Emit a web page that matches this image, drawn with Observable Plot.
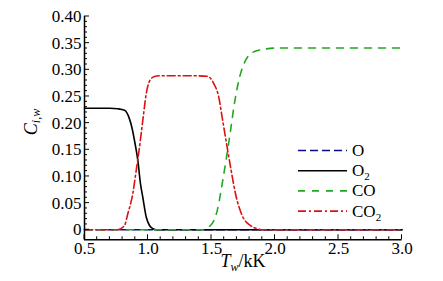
<!DOCTYPE html>
<html><head><meta charset="utf-8">
<script src="https://cdn.jsdelivr.net/npm/d3@7"></script>
<script src="https://cdn.jsdelivr.net/npm/@observablehq/plot@0.6"></script>
<style>body{margin:0;background:#fff} svg text, svg tspan {font-family: "Liberation Serif" !important;}</style>
</head><body><div id="chart"></div>
<script>
// Series data (T_w in kK, C_i,w)
const O_T   = [0.5, 1.0, 1.5, 2.0, 2.5, 3.0];
const O_C   = [0, 0, 0, 0, 0, 0];
const O2_T  = [0.5, 0.7, 0.76, 0.815, 0.854, 0.875, 0.894, 0.92, 0.941, 0.959, 0.986, 1.012, 1.04, 1.065, 1.5, 2.0, 2.5, 3.0];
const O2_C  = [0.228, 0.228, 0.227, 0.224, 0.208, 0.19, 0.167, 0.13, 0.086, 0.061, 0.024, 0.008, 0.002, 0, 0, 0, 0, 0];
const CO_T  = [0.5, 1.0, 1.417, 1.492, 1.545, 1.584, 1.61, 1.65, 1.676, 1.715, 1.755, 1.807, 1.886, 2.04, 2.5, 3.0];
const CO_C  = [0, 0, 0, 0.008, 0.036, 0.086, 0.124, 0.186, 0.23, 0.28, 0.311, 0.33, 0.3375, 0.341, 0.341, 0.341];
const CO2_T = [0.5, 0.76, 0.815, 0.841, 0.88, 0.907, 0.933, 0.959, 0.986, 1.012, 1.051, 1.1, 1.3, 1.466, 1.518, 1.557, 1.584, 1.623, 1.655, 1.689, 1.741, 1.807, 1.86, 1.912, 2.5, 3.0];
const CO2_C = [0, 0, 0.008, 0.03, 0.0675, 0.111, 0.155, 0.205, 0.255, 0.279, 0.2875, 0.289, 0.289, 0.288, 0.274, 0.249, 0.211, 0.155, 0.111, 0.0675, 0.027, 0.008, 0.002, 0, 0, 0];

const seriesNames = ["O", "O2", "CO", "CO2"];
const seriesSubs  = ["", "2", "", "2"];
const seriesBase  = ["O", "O", "CO", "CO"];
const seriesT = [O_T, O2_T, CO_T, CO2_T];
const seriesC = [O_C, O2_C, CO_C, CO2_C];
const colors = ["#0a0a8a", "#000000", "#21a821", "#dd1111"];
const dashes = ["8,4", "none", "7,7", "8,3,2,3"];

const xTicks = [0.5, 1.0, 1.5, 2.0, 2.5, 3.0];
const xTickLabels = ["0.5", "1.0", "1.5", "2.0", "2.5", "3.0"];
const yTicks = [0, 0.05, 0.10, 0.15, 0.20, 0.25, 0.30, 0.35, 0.40];
const yTickLabels = ["0", "0.05", "0.10", "0.15", "0.20", "0.25", "0.30", "0.35", "0.40"];

const yMin = -0.0188;
const font = "Liberation Serif";

const lineMarks = seriesNames.map((name, k) => {
  const data = seriesT[k].map((t, i) => ({T: t, C: seriesC[k][i]}));
  return Plot.line(data, {x: "T", y: "C", stroke: colors[k], strokeWidth: 1.6,
    strokeDasharray: dashes[k], curve: "monotone-x"});
});

const chart = Plot.plot({
  width: 443, height: 281,
  marginLeft: 84, marginRight: 41.5, marginTop: 16, marginBottom: 41.7,
  x: {domain: [0.5, 3.0]},
  y: {domain: [yMin, 0.40]},
  style: {fontFamily: font, fontSize: "17px", background: "#fff", color: "#000"},
  marks: [
    Plot.axisX({ticks: xTicks, tickFormat: d => xTickLabels[xTicks.indexOf(d)], tickSize: 0, tickPadding: 2, label: null, fontSize: 17, fontFamily: font}),
    Plot.axisY({ticks: yTicks, tickFormat: d => yTickLabels[yTicks.indexOf(d)], tickSize: 0, tickPadding: 3, label: null, fontSize: 17, fontFamily: font}),
    ...lineMarks,
    Plot.ruleX([0.5], {stroke: "#000", strokeWidth: 1.5}),
    Plot.ruleY([yMin], {stroke: "#000", strokeWidth: 1.5})
  ]
});

document.getElementById("chart").appendChild(chart);

const sx = chart.scale("x"), sy = chart.scale("y");
const svg = d3.select(chart);
const gT = svg.append("g").attr("stroke", "#000").attr("stroke-width", 1);
const x0 = sx.apply(0.5), y0 = sy.apply(yMin);
// inward ticks
d3.range(5, 31).map(v => v / 10).forEach(v => {
  const major = xTicks.some(t => Math.abs(t - v) < 1e-9);
  const px = sx.apply(v);
  gT.append("line").attr("x1", px).attr("x2", px).attr("y1", y0).attr("y2", y0 - (major ? 5 : 3));
});
d3.range(0, 41).map(v => v / 100).forEach(v => {
  const major = yTicks.some(t => Math.abs(t - v) < 1e-9);
  const py = sy.apply(v);
  gT.append("line").attr("x1", x0).attr("x2", x0 + (major ? 5 : 3)).attr("y1", py).attr("y2", py);
});

// axis titles
const xt = svg.append("text").attr("x", 243).attr("y", 267).attr("text-anchor", "middle")
  .style("font-family", font).attr("font-size", 18).attr("fill", "#000");
xt.append("tspan").attr("font-style", "italic").text("T");
xt.append("tspan").attr("font-style", "italic").attr("font-size", 12).attr("dy", 4).text("w");
xt.append("tspan").attr("dy", -4).text("/kK");

const yt = svg.append("text").attr("transform", "translate(37,122) rotate(-90)").attr("text-anchor", "middle")
  .style("font-family", font).attr("font-size", 18).attr("fill", "#000");
yt.append("tspan").attr("font-style", "italic").text("C");
yt.append("tspan").attr("font-style", "italic").attr("font-size", 12).attr("dy", 3).text("i,w");

// legend
const lg = svg.append("g").attr("text-anchor", "start");
seriesNames.forEach((name, k) => {
  const cy = 150.5 + k * 20.2;
  lg.append("line").attr("x1", 298).attr("x2", 347).attr("y1", cy).attr("y2", cy)
    .attr("stroke", colors[k]).attr("stroke-width", 1.6).attr("stroke-dasharray", dashes[k]);
  const t = lg.append("text").attr("x", 352).attr("y", cy + 5.5).style("font-family", font)
    .attr("font-size", 17).attr("fill", "#000");
  t.append("tspan").text(seriesBase[k]);
  if (seriesSubs[k]) t.append("tspan").attr("font-size", 11).attr("dy", 4).text(seriesSubs[k]);
});
</script>
</body></html>
